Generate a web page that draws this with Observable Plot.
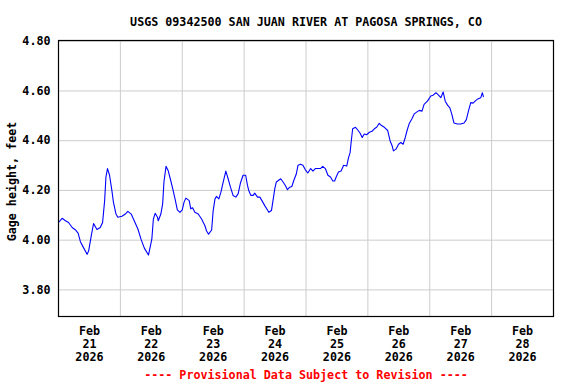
<!DOCTYPE html>
<html>
<head>
<meta charset="utf-8">
<script src="https://cdn.jsdelivr.net/npm/d3@7"></script>
<script src="https://cdn.jsdelivr.net/npm/@observablehq/plot@0.6"></script>
<style>
  html, body { margin: 0; padding: 0; background: #fff; }
  svg { display: block; }
</style>
</head>
<body>
<div id="chart"></div>
<script>
// ---- Data ----
const titleText = "USGS 09342500 SAN JUAN RIVER AT PAGOSA SPRINGS, CO";
const yLabel = "Gage height, feet";
const caption = "---- Provisional Data Subject to Revision ----";
const monthLabel = "Feb";
const yearLabel = "2026";
const dayLabels = [21, 22, 23, 24, 25, 26, 27, 28];
const yTicks = [3.8, 4.0, 4.2, 4.4, 4.6, 4.8];

// hours since 2026-02-21 00:00
const hours = [
  0, 1.4, 2.7, 3.9, 5.3, 6.5, 7.6, 8.5, 9.7, 11.1, 11.7, 12.7, 13.6, 14.9, 16.2, 17.1, 17.9, 18.4, 19.0, 19.8,
  20.7, 21.3, 22.3, 23.0, 24.6, 25.9, 26.9, 28.2, 29.5, 30.8, 32.0, 33.3, 34.9, 36.2, 36.8, 37.5, 38.4, 38.7, 39.7, 40.4,
  40.9, 41.7, 42.6, 43.5, 44.3, 45.2, 46.1, 47.1, 48.0, 48.7, 49.4, 50.7, 51.3, 52.0, 52.9, 54.2, 55.5, 56.8, 57.4, 58.2,
  59.4, 60.0, 60.7, 61.3, 62.2, 63.0, 63.9, 64.9, 65.8, 66.7, 67.7, 68.8, 69.7, 70.6, 71.6, 72.6, 73.3, 73.8, 74.6, 75.5,
  76.1, 77.2, 78.1, 78.9, 80.0, 81.0, 81.6, 82.6, 83.2, 83.9, 84.5, 85.4, 86.2, 87.1, 88.0, 88.8, 89.7, 90.5, 91.3, 92.2,
  92.9, 93.9, 94.8, 95.7, 96.7, 97.8, 98.7, 99.6, 100.6, 101.6, 102.5, 103.5, 104.5, 105.5, 106.4, 107.1, 107.7, 108.6, 109.6, 110.6,
  111.8, 112.5, 113.1, 113.5, 114.1, 115.2, 116.1, 117.0, 117.8, 118.6, 119.5, 120.6, 121.6, 122.5, 123.4, 124.4, 125.3, 126.4, 127.7, 128.6,
  129.4, 129.9, 130.9, 131.9, 132.8, 133.7, 134.5, 135.2, 136.0, 137.1, 138.0, 138.9, 139.9, 141.0, 141.8, 143.1, 144.4, 145.3, 146.4, 147.4,
  148.3, 149.2, 150.0, 150.9, 151.8, 152.6, 153.4, 154.7, 156.0, 157.3, 158.2, 159.0, 159.9, 160.8, 161.8, 162.8, 163.8, 164.4, 164.8
];
const heights = [
  4.071, 4.088, 4.078, 4.071, 4.051, 4.042, 4.028, 3.994, 3.970, 3.943, 3.957, 4.017, 4.067, 4.043, 4.051, 4.071, 4.159, 4.254, 4.288, 4.261,
  4.200, 4.153, 4.105, 4.092, 4.096, 4.105, 4.116, 4.105, 4.075, 4.045, 4.004, 3.968, 3.940, 4.004, 4.085, 4.108, 4.092, 4.078, 4.105, 4.146,
  4.234, 4.297, 4.278, 4.241, 4.207, 4.166, 4.122, 4.112, 4.122, 4.153, 4.169, 4.159, 4.126, 4.130, 4.112, 4.105, 4.085, 4.058, 4.038, 4.024,
  4.041, 4.119, 4.166, 4.176, 4.166, 4.193, 4.234, 4.278, 4.247, 4.213, 4.180, 4.173, 4.187, 4.231, 4.261, 4.261, 4.220, 4.200, 4.180, 4.180,
  4.189, 4.173, 4.173, 4.159, 4.139, 4.122, 4.112, 4.119, 4.159, 4.207, 4.234, 4.241, 4.247, 4.234, 4.220, 4.203, 4.213, 4.216, 4.241, 4.265,
  4.301, 4.305, 4.301, 4.284, 4.270, 4.288, 4.278, 4.288, 4.288, 4.288, 4.297, 4.288, 4.261, 4.254, 4.238, 4.238, 4.254, 4.274, 4.278, 4.301,
  4.298, 4.332, 4.352, 4.393, 4.448, 4.454, 4.443, 4.430, 4.413, 4.427, 4.424, 4.434, 4.438, 4.448, 4.454, 4.470, 4.461, 4.454, 4.441, 4.400,
  4.380, 4.359, 4.366, 4.386, 4.393, 4.386, 4.413, 4.441, 4.468, 4.488, 4.508, 4.515, 4.522, 4.519, 4.546, 4.559, 4.580, 4.583, 4.593, 4.583,
  4.573, 4.596, 4.559, 4.543, 4.532, 4.505, 4.471, 4.467, 4.467, 4.471, 4.485, 4.519, 4.553, 4.551, 4.561, 4.569, 4.573, 4.593, 4.577
];

// ---- Build tables ----
const startMs = Date.UTC(2026, 1, 21);
const dayMs = 86400000;
const series = hours.map((h, i) => ({ t: new Date(startMs + h * 3600000), v: heights[i] }));
const labels = dayLabels.map((d, i) => ({ t: new Date(startMs + i * dayMs + dayMs / 2), text: `${monthLabel}\n${d}\n${yearLabel}` }));
const midnights = dayLabels.slice(1).map((d, i) => new Date(startMs + (i + 1) * dayMs));
const xDomain = [new Date(startMs), new Date(startMs + dayLabels.length * dayMs)];

const font = "'DejaVu Sans Mono', 'Liberation Mono', monospace";

const chart = Plot.plot({
  width: 576,
  height: 384,
  marginLeft: 58,
  marginRight: 23,
  marginTop: 40,
  marginBottom: 68,
  style: { fontFamily: font, fontWeight: "bold", fontSize: "11.7px", background: "#fff", overflow: "visible" },
  x: { type: "utc", domain: xDomain, axis: null },
  y: { domain: [3.693, 4.803], axis: null },
  marks: [
    Plot.gridY(yTicks, { stroke: "#cccccc", strokeOpacity: 1 }),
    Plot.gridX(midnights, { stroke: "#cccccc", strokeOpacity: 1 }),
    Plot.line(series, { x: "t", y: "v", stroke: "#0000ff", strokeWidth: 1.1 }),
    Plot.frame({ stroke: "#000", strokeWidth: 1.2 }),
    Plot.text(yTicks, { y: (d) => d, text: (d) => d.toFixed(2), frameAnchor: "left", dx: -8, textAnchor: "end", fill: "#000", fontWeight: "bold" }),
    Plot.text(labels, { x: "t", text: "text", frameAnchor: "bottom", dy: 9, lineAnchor: "top", lineHeight: 1.13, fill: "#000", fontWeight: "bold" }),
    Plot.text([yLabel], { frameAnchor: "left", dx: -46, dy: 3, rotate: -90, textAnchor: "middle", fill: "#000", fontWeight: "bold" }),
    Plot.text([titleText], { frameAnchor: "top", dy: -23, fill: "#000", fontWeight: "bold" }),
    Plot.text([caption], { frameAnchor: "bottom", dy: 62, fill: "#ff0000", fontWeight: "bold" })
  ]
});
document.getElementById("chart").appendChild(chart);
</script>
</body>
</html>
